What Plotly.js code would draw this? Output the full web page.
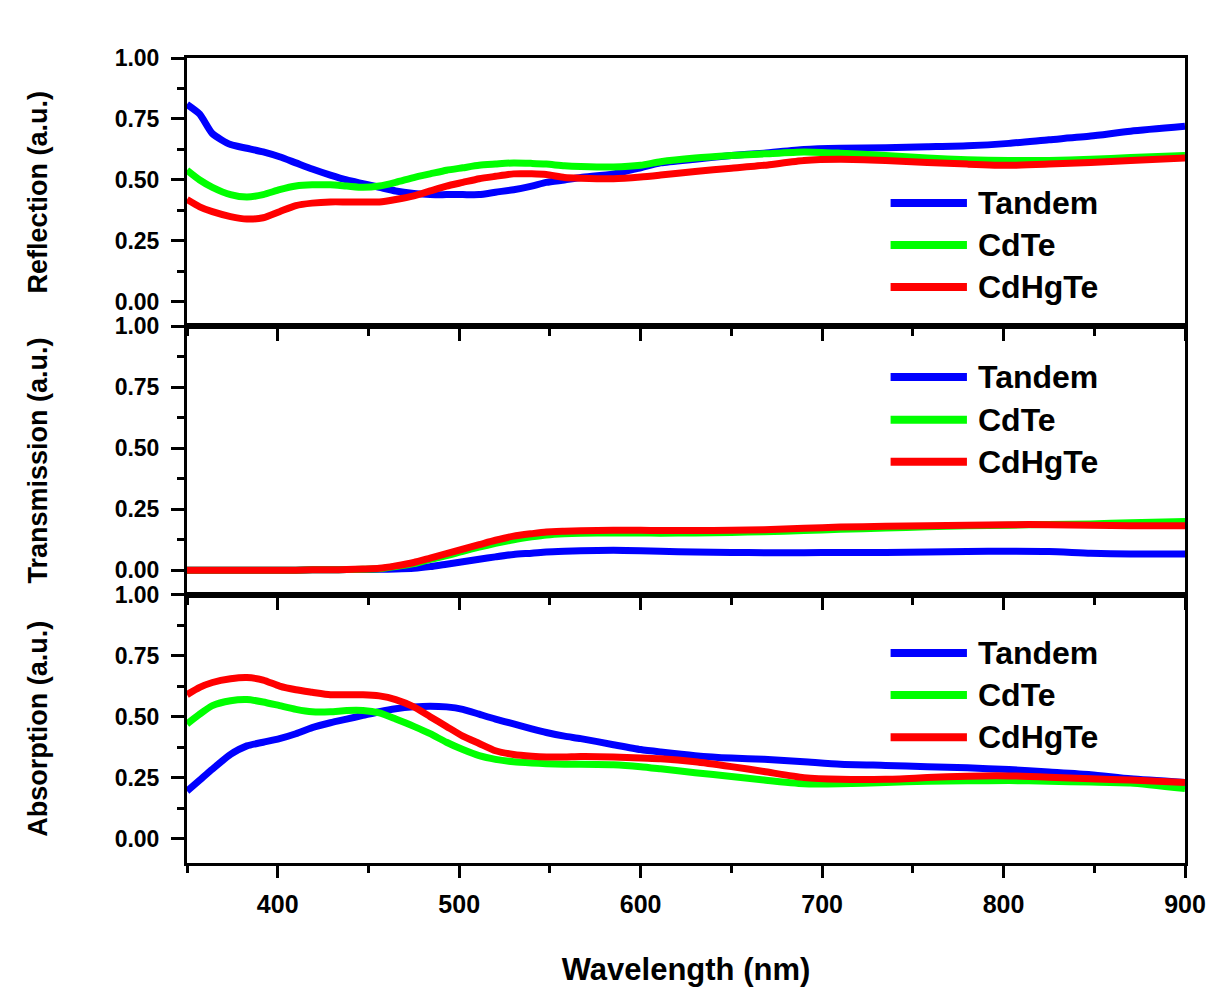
<!DOCTYPE html>
<html>
<head>
<meta charset="utf-8">
<script src="https://cdn.plot.ly/plotly-3.0.1.min.js"></script>
<style>html,body{margin:0;padding:0;background:#fff;}#chart{width:1210px;height:988px;}</style>
</head>
<body>
<div id="chart"></div>
<script>
// ---------- data ----------
const wavelength = [350, 357, 364, 374, 383, 392, 401, 410, 419, 429,
  438, 447, 456, 465, 475, 484, 493, 502, 511, 520,
  530, 540, 548, 558, 567, 585, 600, 611, 630, 650,
  668, 690, 710, 735, 758, 780, 803, 825, 848, 870, 900];

const seriesNames = ["Tandem", "CdTe", "CdHgTe"];
const panelTitles = ["Reflection (a.u.)", "Transmission (a.u.)", "Absorption (a.u.)"];
const yTickValues = [0, 0.25, 0.5, 0.75, 1.0];
const xTickValues = [400, 500, 600, 700, 800, 900];

const reflTandem = [0.81, 0.77, 0.69, 0.645, 0.63, 0.615, 0.595, 0.57, 0.545, 0.52,
  0.50, 0.485, 0.47, 0.455, 0.445, 0.44, 0.44, 0.44, 0.44, 0.45,
  0.46, 0.475, 0.49, 0.50, 0.51, 0.525, 0.55, 0.57, 0.585, 0.60,
  0.61, 0.625, 0.63, 0.632, 0.636, 0.64, 0.65, 0.665, 0.68, 0.70, 0.72];
const reflCdTe = [0.54, 0.50, 0.47, 0.44, 0.43, 0.44, 0.46, 0.475, 0.48, 0.48,
  0.475, 0.47, 0.475, 0.49, 0.51, 0.525, 0.54, 0.55, 0.56, 0.565,
  0.57, 0.568, 0.565, 0.558, 0.555, 0.553, 0.56, 0.575, 0.59, 0.60,
  0.607, 0.615, 0.61, 0.60, 0.59, 0.583, 0.58, 0.58, 0.585, 0.592, 0.60];
const reflCdHgTe = [0.42, 0.39, 0.37, 0.35, 0.34, 0.345, 0.37, 0.395, 0.405, 0.41,
  0.41, 0.41, 0.41, 0.42, 0.435, 0.455, 0.475, 0.49, 0.505, 0.515,
  0.525, 0.525, 0.522, 0.51, 0.507, 0.505, 0.512, 0.52, 0.535, 0.548,
  0.56, 0.58, 0.585, 0.58, 0.572, 0.565, 0.56, 0.565, 0.572, 0.58, 0.59];

const transTandem = [0, 0, 0, 0, 0, 0, 0, 0, 0.002, 0.002,
  0.003, 0.003, 0.004, 0.005, 0.008, 0.015, 0.025, 0.035, 0.045, 0.055,
  0.065, 0.07, 0.075, 0.078, 0.08, 0.082, 0.08, 0.078, 0.075, 0.073,
  0.072, 0.072, 0.073, 0.073, 0.075, 0.077, 0.078, 0.077, 0.07, 0.067, 0.067];
const transCdTe = [0, 0, 0, 0, 0, 0, 0, 0, 0.002, 0.002,
  0.003, 0.004, 0.006, 0.015, 0.027, 0.045, 0.06, 0.078, 0.095, 0.11,
  0.125, 0.137, 0.145, 0.15, 0.152, 0.153, 0.153, 0.152, 0.153, 0.155,
  0.158, 0.163, 0.168, 0.173, 0.178, 0.182, 0.185, 0.188, 0.19, 0.195, 0.2];
const transCdHgTe = [0, 0, 0, 0, 0, 0, 0, 0, 0.002, 0.002,
  0.003, 0.005, 0.008, 0.018, 0.032, 0.05, 0.068, 0.087, 0.105, 0.123,
  0.14, 0.15, 0.157, 0.16, 0.162, 0.164, 0.164, 0.163, 0.163, 0.164,
  0.166, 0.172, 0.177, 0.18, 0.183, 0.185, 0.187, 0.187, 0.185, 0.183, 0.182];

const absTandem = [0.195, 0.24, 0.285, 0.345, 0.38, 0.395, 0.41, 0.43, 0.455, 0.475,
  0.49, 0.505, 0.52, 0.532, 0.54, 0.543, 0.54, 0.53, 0.51, 0.49,
  0.47, 0.45, 0.435, 0.42, 0.41, 0.385, 0.365, 0.355, 0.34, 0.33,
  0.325, 0.315, 0.305, 0.30, 0.295, 0.29, 0.283, 0.273, 0.262, 0.245, 0.23];
const absCdTe = [0.47, 0.51, 0.545, 0.565, 0.57, 0.56, 0.545, 0.53, 0.52, 0.52,
  0.525, 0.525, 0.515, 0.49, 0.46, 0.43, 0.395, 0.365, 0.34, 0.325,
  0.315, 0.31, 0.307, 0.305, 0.305, 0.303, 0.295, 0.286, 0.27, 0.255,
  0.24, 0.225, 0.225, 0.23, 0.235, 0.237, 0.238, 0.235, 0.232, 0.228, 0.205];
const absCdHgTe = [0.59, 0.62, 0.64, 0.655, 0.66, 0.65, 0.625, 0.61, 0.60, 0.59,
  0.59, 0.59, 0.585, 0.57, 0.54, 0.50, 0.46, 0.42, 0.39, 0.36,
  0.345, 0.338, 0.335, 0.335, 0.337, 0.335, 0.33, 0.327, 0.315, 0.295,
  0.275, 0.25, 0.243, 0.243, 0.25, 0.256, 0.257, 0.252, 0.245, 0.24, 0.23];

// ---------- styling ----------
const colors = ["#0000ff", "#00ff00", "#ff0000"];
const FONT = "Liberation Sans, Arial, Helvetica, sans-serif";
const panels = [
  {series: [reflTandem, reflCdTe, reflCdHgTe], x: "x3", y: "y3", legendRows: [0.4595, 0.303, 0.1465]},
  {series: [transTandem, transCdTe, transCdHgTe], x: "x2", y: "y2", legendRows: [0.811, 0.652, 0.495]},
  {series: [absTandem, absCdTe, absCdHgTe], x: "x", y: "y", legendRows: [0.783, 0.626, 0.469]}
];

const traces = [];
const shapes = [];
const annotations = [];
panels.forEach((p, pi) => {
  p.series.forEach((vals, si) => {
    traces.push({
      type: "scatter", mode: "lines",
      x: wavelength, y: vals, name: seriesNames[si],
      xaxis: p.x, yaxis: p.y, showlegend: false,
      line: {color: colors[si], width: 7, shape: "spline", smoothing: 0.6}
    });
    const yd = p.y + " domain";
    shapes.push({type: "line", xref: "paper", yref: yd,
      x0: 0.705, x1: 0.7815, y0: p.legendRows[si], y1: p.legendRows[si],
      line: {color: colors[si], width: 8}});
    annotations.push({xref: "paper", yref: yd, x: 0.7905, y: p.legendRows[si],
      xanchor: "left", yanchor: "middle", showarrow: false, text: seriesNames[si],
      font: {family: FONT, size: 32, weight: 700, color: "#000"}});
  });
});

function xAxis(anchor, isBottom) {
  const ax = {
    anchor: anchor, range: [350, 900], showgrid: false, zeroline: false,
    showline: true, linecolor: "#000", linewidth: 3, mirror: true,
    ticks: "outside", tickvals: xTickValues, ticklen: 12, tickwidth: 3, tickcolor: "#000",
    minor: {ticks: "outside", dtick: 50, tick0: 350, ticklen: 7, tickwidth: 3, tickcolor: "#000"},
    showticklabels: isBottom,
    tickfont: {family: FONT, size: 25, weight: 700, color: "#000"},
    ticklabelstandoff: 5
  };
  if (isBottom) {
    ax.title = {text: "Wavelength (nm)", standoff: 42,
      font: {family: FONT, size: 31, weight: 700, color: "#000"}};
  } else {
    ax.matches = "x";
  }
  return ax;
}
function yAxis(domain, title) {
  return {
    domain: domain, range: [-0.1, 1.0], showgrid: false, zeroline: false,
    showline: true, linecolor: "#000", linewidth: 3, mirror: true,
    ticks: "outside", tickvals: yTickValues, tickformat: ".2f", ticklen: 13, tickwidth: 3, tickcolor: "#000",
    minor: {ticks: "outside", dtick: 0.125, tick0: 0, ticklen: 7, tickwidth: 3, tickcolor: "#000"},
    tickfont: {family: FONT, size: 23, weight: 700, color: "#000"},
    ticklabelstandoff: 7,
    title: {text: title, standoff: 60, font: {family: FONT, size: 27, weight: 700, color: "#000"}}
  };
}

const layout = {
  width: 1210, height: 988,
  margin: {l: 187, r: 25, t: 58, b: 125},
  paper_bgcolor: "#ffffff", plot_bgcolor: "#ffffff",
  showlegend: false,
  xaxis: xAxis("y", true),
  xaxis2: xAxis("y2", false),
  xaxis3: xAxis("y3", false),
  yaxis: yAxis([0, 1/3], panelTitles[2]),
  yaxis2: yAxis([1/3, 2/3], panelTitles[1]),
  yaxis3: yAxis([2/3, 1], panelTitles[0]),
  shapes: shapes,
  annotations: annotations
};

Plotly.newPlot("chart", traces, layout, {displayModeBar: false, staticPlot: true});
</script>
</body>
</html>
